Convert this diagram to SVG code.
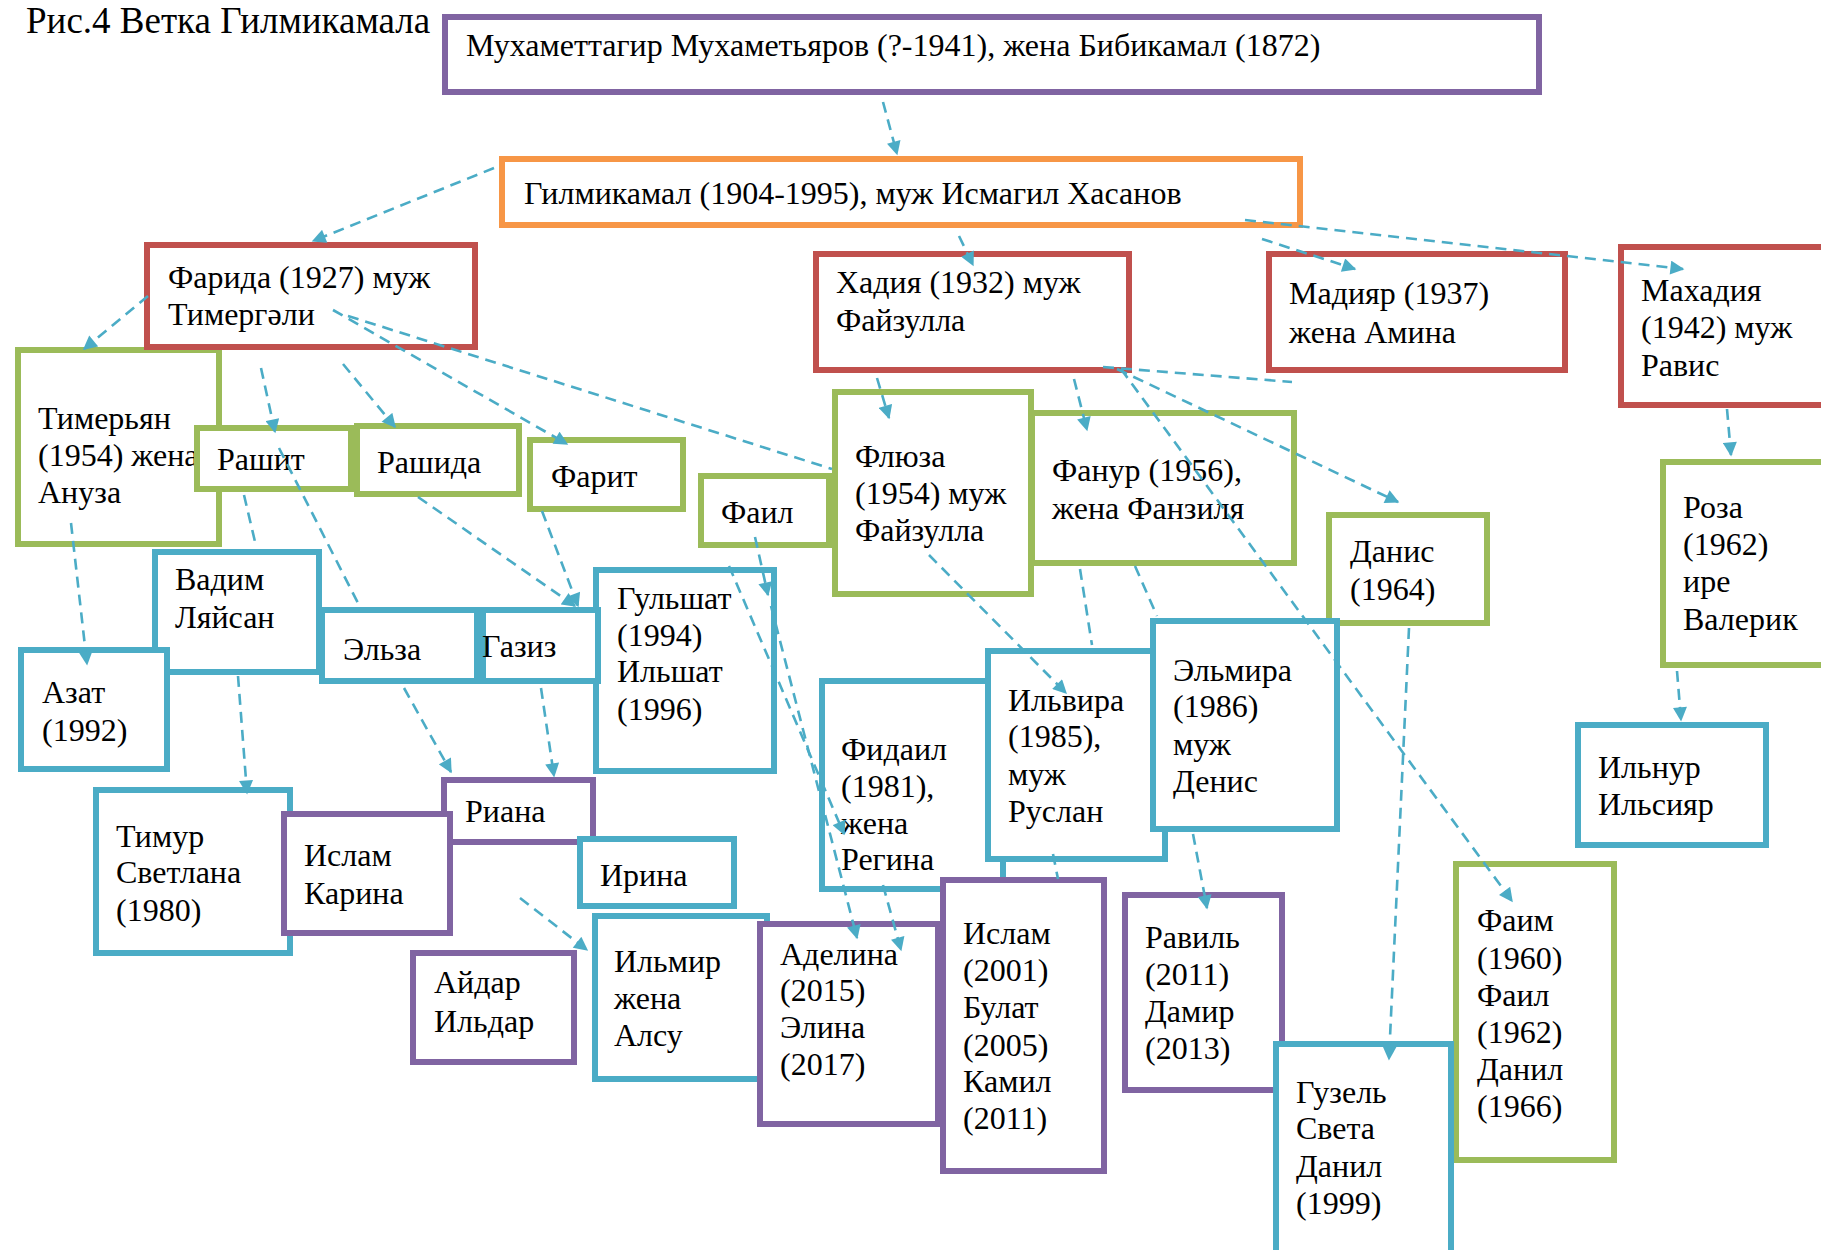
<svg xmlns="http://www.w3.org/2000/svg" width="1821" height="1250" viewBox="0 0 1821 1250">
<style>
text{font-family:"Liberation Serif","Times New Roman",serif;font-size:32px;fill:#000}
.title{font-size:37px}
rect{fill:#fff;stroke-width:6}
.pu{stroke:#8064a2}.or{stroke:#f79646}.rd{stroke:#c0504d}.gr{stroke:#9bbb59}.bl{stroke:#4bacc6}
#connectors line{stroke:#4bacc6;stroke-width:2.6;stroke-dasharray:11 7;fill:none}
#connectors line.a{marker-end:url(#ah)}
</style>
<defs>
<marker id="ah" viewBox="0 0 10 10" refX="9" refY="5" markerWidth="15" markerHeight="14" markerUnits="userSpaceOnUse" orient="auto">
<path d="M0,0 L10,5 L0,10 z" fill="#4bacc6"/>
</marker>
</defs>
<rect width="1821" height="1250" style="fill:#fff;stroke:none"/>
<text class="title" x="26" y="33">Рис.4 Ветка Гилмикамала</text>

<g id="n-muhamettagir"><rect class="pu" x="445" y="17" width="1094" height="75"/><text x="466" y="56">Мухаметтагир Мухаметьяров (?-1941), жена Бибикамал (1872)</text></g>
<g id="n-gilmikamal"><rect class="or" x="502" y="159" width="798" height="66"/><text x="524" y="204">Гилмикамал (1904-1995), муж Исмагил Хасанов</text></g>

<g id="n-vadim"><rect class="bl" x="155" y="552" width="164" height="120"/><text x="175" y="590">Вадим</text><text x="175" y="628">Ляйсан</text></g>
<g id="n-timeryan"><rect class="gr" x="18" y="350" width="201" height="194"/><text x="38" y="429">Тимерьян</text><text x="38" y="466">(1954) жена</text><text x="38" y="503">Ануза</text></g>
<g id="n-farida"><rect class="rd" x="147" y="245" width="328" height="102"/><text x="168" y="288">Фарида (1927) муж</text><text x="168" y="325">Тимергәли</text></g>
<g id="n-rashit"><rect class="gr" x="197" y="428" width="154" height="61"/><text x="217" y="470">Рашит</text></g>
<g id="n-rashida"><rect class="gr" x="357" y="426" width="162" height="68"/><text x="377" y="473">Рашида</text></g>
<g id="n-farit"><rect class="gr" x="530" y="440" width="153" height="69"/><text x="551" y="487">Фарит</text></g>

<g id="n-hadiya"><rect class="rd" x="816" y="254" width="313" height="116"/><text x="836" y="293">Хадия (1932) муж</text><text x="836" y="331">Файзулла</text></g>
<g id="n-madiyar"><rect class="rd" x="1269" y="254" width="296" height="116"/><text x="1289" y="304">Мадияр (1937)</text><text x="1289" y="343">жена Амина</text></g>
<g id="n-mahadiya"><rect class="rd" x="1621" y="247" width="250" height="158"/><text x="1641" y="301">Махадия</text><text x="1641" y="338">(1942) муж</text><text x="1641" y="376">Равис</text></g>

<g id="n-fail"><rect class="gr" x="701" y="476" width="128" height="69"/><text x="721" y="523">Фаил</text></g>
<g id="n-flyuza"><rect class="gr" x="835" y="392" width="196" height="202"/><text x="855" y="467">Флюза</text><text x="855" y="504">(1954) муж</text><text x="855" y="541">Файзулла</text></g>
<g id="n-fanur"><rect class="gr" x="1032" y="413" width="262" height="150"/><text x="1052" y="481">Фанур (1956),</text><text x="1052" y="519">жена Фанзиля</text></g>
<g id="n-danis"><rect class="gr" x="1329" y="515" width="158" height="108"/><text x="1350" y="562">Данис</text><text x="1350" y="600">(1964)</text></g>
<g id="n-roza"><rect class="gr" x="1663" y="462" width="200" height="203"/><text x="1683" y="518">Роза</text><text x="1683" y="555">(1962)</text><text x="1683" y="592">ире</text><text x="1683" y="630">Валерик</text></g>

<g id="n-gulshat"><rect class="bl" x="596" y="570" width="178" height="201"/><text x="617" y="609">Гульшат</text><text x="617" y="646">(1994)</text><text x="617" y="682">Ильшат</text><text x="617" y="720">(1996)</text></g>
<g id="n-elza"><rect class="bl" x="322" y="610" width="155" height="71"/><text x="343" y="660">Эльза</text></g>
<g id="n-gaziz"><rect class="bl" x="483" y="610" width="115" height="71"/><text x="482" y="657">Газиз</text></g>
<g id="n-azat"><rect class="bl" x="21" y="650" width="146" height="119"/><text x="42" y="703">Азат</text><text x="42" y="741">(1992)</text></g>

<g id="n-fidail"><rect class="bl" x="822" y="681" width="181" height="208"/><text x="841" y="760">Фидаил</text><text x="841" y="797">(1981),</text><text x="841" y="834">жена</text><text x="841" y="870">Регина</text></g>
<g id="n-ilvira"><rect class="bl" x="988" y="651" width="177" height="208"/><text x="1008" y="711">Ильвира</text><text x="1008" y="747">(1985),</text><text x="1008" y="785">муж</text><text x="1008" y="822">Руслан</text></g>
<g id="n-elmira"><rect class="bl" x="1153" y="621" width="184" height="208"/><text x="1173" y="681">Эльмира</text><text x="1173" y="717">(1986)</text><text x="1173" y="755">муж</text><text x="1173" y="792">Денис</text></g>
<g id="n-ilnur"><rect class="bl" x="1578" y="725" width="188" height="120"/><text x="1598" y="778">Ильнур</text><text x="1598" y="815">Ильсияр</text></g>

<g id="n-timur"><rect class="bl" x="96" y="790" width="194" height="163"/><text x="116" y="847">Тимур</text><text x="116" y="883">Светлана</text><text x="116" y="921">(1980)</text></g>
<g id="n-riana"><rect class="pu" x="444" y="780" width="149" height="62"/><text x="465" y="822">Риана</text></g>
<g id="n-islam-karina"><rect class="pu" x="284" y="814" width="166" height="119"/><text x="304" y="866">Ислам</text><text x="304" y="904">Карина</text></g>
<g id="n-ilmir"><rect class="bl" x="595" y="916" width="172" height="163"/><text x="614" y="972">Ильмир</text><text x="614" y="1009">жена</text><text x="614" y="1046">Алсу</text></g>
<g id="n-irina"><rect class="bl" x="580" y="839" width="154" height="67"/><text x="600" y="886">Ирина</text></g>
<g id="n-aidar"><rect class="pu" x="413" y="953" width="161" height="109"/><text x="434" y="993">Айдар</text><text x="434" y="1032">Ильдар</text></g>

<g id="n-adelina"><rect class="pu" x="760" y="924" width="178" height="200"/><text x="780" y="965">Аделина</text><text x="780" y="1001">(2015)</text><text x="780" y="1038">Элина</text><text x="780" y="1075">(2017)</text></g>
<g id="n-islam-bulat"><rect class="pu" x="943" y="880" width="161" height="291"/><text x="963" y="944">Ислам</text><text x="963" y="981">(2001)</text><text x="963" y="1018">Булат</text><text x="963" y="1056">(2005)</text><text x="963" y="1092">Камил</text><text x="963" y="1129">(2011)</text></g>
<g id="n-ravil"><rect class="pu" x="1125" y="895" width="157" height="195"/><text x="1145" y="948">Равиль</text><text x="1145" y="985">(2011)</text><text x="1145" y="1022">Дамир</text><text x="1145" y="1059">(2013)</text></g>
<g id="n-faim"><rect class="gr" x="1456" y="864" width="158" height="296"/><text x="1477" y="931">Фаим</text><text x="1477" y="969">(1960)</text><text x="1477" y="1006">Фаил</text><text x="1477" y="1043">(1962)</text><text x="1477" y="1080">Данил</text><text x="1477" y="1117">(1966)</text></g>
<g id="n-guzel"><rect class="bl" x="1276" y="1044" width="175" height="220"/><text x="1296" y="1103">Гузель</text><text x="1296" y="1139">Света</text><text x="1296" y="1177">Данил</text><text x="1296" y="1214">(1999)</text></g>

<g id="connectors">
<line class="a" x1="883" y1="102" x2="897" y2="154"/>
<line class="a" x1="494" y1="168" x2="313" y2="241"/>
<line class="a" x1="959" y1="236" x2="973" y2="265"/>
<line class="a" x1="1262" y1="239" x2="1355" y2="269"/>
<line class="a" x1="1245" y1="220" x2="1683" y2="269"/>
<line class="a" x1="148" y1="296" x2="84" y2="349"/>
<line class="a" x1="261" y1="368" x2="275" y2="432"/>
<line class="a" x1="343" y1="364" x2="395" y2="427"/>
<line class="a" x1="333" y1="310" x2="567" y2="444"/>
<line x1="348" y1="316" x2="832" y2="469"/>
<line x1="244" y1="495" x2="256" y2="546"/>
<line x1="279" y1="448" x2="360" y2="607"/>
<line class="a" x1="418" y1="497" x2="575" y2="606"/>
<line class="a" x1="542" y1="511" x2="578" y2="606"/>
<line class="a" x1="71" y1="523" x2="87" y2="664"/>
<line class="a" x1="238" y1="676" x2="247" y2="793"/>
<line class="a" x1="404" y1="688" x2="451" y2="772"/>
<line class="a" x1="541" y1="688" x2="554" y2="776"/>
<line class="a" x1="520" y1="898" x2="587" y2="950"/>
<line class="a" x1="755" y1="537" x2="768" y2="595"/>
<line class="a" x1="771" y1="606" x2="857" y2="938"/>
<line class="a" x1="729" y1="566" x2="844" y2="834"/>
<line class="a" x1="883" y1="885" x2="901" y2="950"/>
<line class="a" x1="877" y1="378" x2="889" y2="418"/>
<line class="a" x1="1074" y1="379" x2="1087" y2="430"/>
<line class="a" x1="1117" y1="369" x2="1398" y2="502"/>
<line x1="1103" y1="367" x2="1292" y2="382"/>
<line class="a" x1="1121" y1="369" x2="1512" y2="901"/>
<line class="a" x1="929" y1="555" x2="1066" y2="693"/>
<line x1="1080" y1="569" x2="1092" y2="645"/>
<line x1="1135" y1="566" x2="1157" y2="616"/>
<line class="a" x1="1193" y1="834" x2="1207" y2="908"/>
<line x1="1053" y1="854" x2="1058" y2="879"/>
<line class="a" x1="1409" y1="628" x2="1389" y2="1059"/>
<line class="a" x1="1727" y1="409" x2="1731" y2="455"/>
<line class="a" x1="1677" y1="671" x2="1681" y2="720"/>
</g>
</svg>
